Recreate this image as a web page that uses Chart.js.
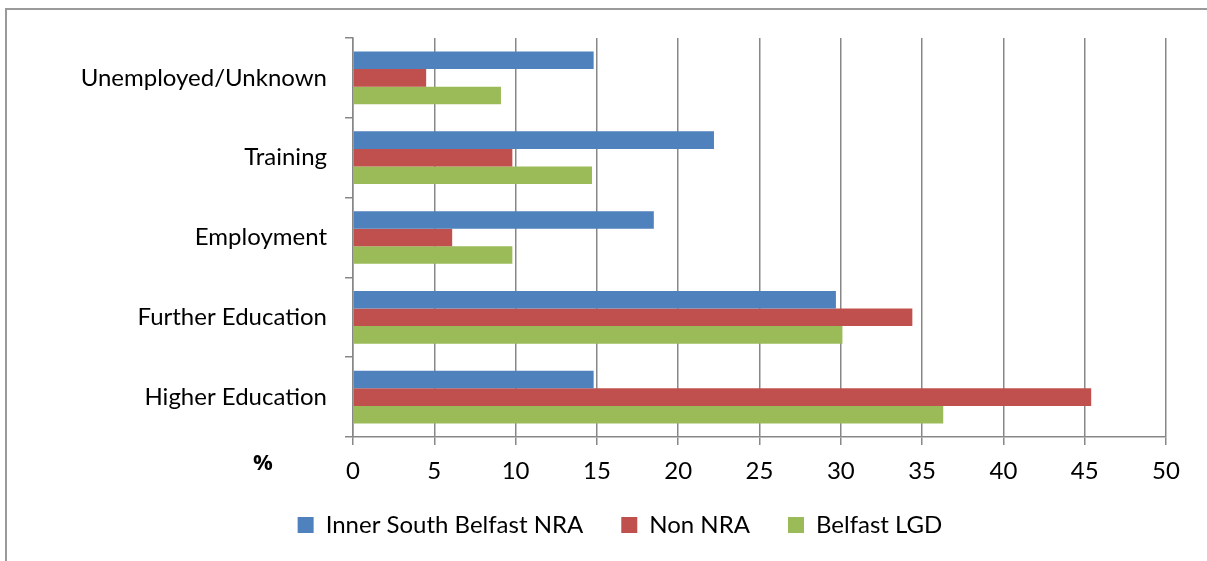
<!DOCTYPE html>
<html>
<head>
<meta charset="utf-8">
<script src="https://cdn.jsdelivr.net/npm/chart.js@4.4.0/dist/chart.umd.min.js"></script>
<style>
  html, body { margin: 0; padding: 0; background: #fff; overflow: hidden; }
  #frame { position: absolute; left: 5px; top: 8px; width: 1400px; height: 800px; border: 2px solid #9a9a9a; }
  #wrap { position: absolute; left: 0; top: 0; width: 1207px; height: 561px; }
</style>
</head>
<body>
<div id="frame"></div>
<div id="wrap"><canvas id="chart"></canvas></div>
<script>
// categories, top to bottom
const categories = ['Unemployed/Unknown', 'Training', 'Employment', 'Further Education', 'Higher Education'];
const seriesNames = ['Inner South Belfast NRA', 'Non NRA', 'Belfast LGD'];
const innerSouthNRA = [14.8, 22.2, 18.5, 29.7, 14.8];
const nonNRA = [4.5, 9.8, 6.1, 34.4, 45.4];
const belfastLGD = [9.1, 14.7, 9.8, 30.1, 36.3];
const xTicks = [0, 5, 10, 15, 20, 25, 30, 35, 40, 45, 50];

const colors = ['#4f81bd', '#c0504d', '#9bbb59'];
const gridColor = '#878787';
const fontFamily = 'Lato, "Open Sans", sans-serif';

// draws the "%" axis note left of the x tick labels
const percentLabel = {
    id: 'percentLabel',
    afterDraw(chart) {
        const ctx = chart.ctx;
        ctx.save();
        ctx.font = 'bold 22px "Open Sans", sans-serif';
        ctx.fillStyle = '#000';
        ctx.textAlign = 'center';
        ctx.textBaseline = 'middle';
        ctx.fillText('%', 263, 464);
        ctx.restore();
    }
};

// nudge the legend up a bit, closer to the axis labels
const legendShift = {
    id: 'legendShift',
    afterLayout(chart) {
        const lg = chart.legend;
        if (lg) {
            lg.top -= 12;
            lg.bottom -= 12;
        }
    }
};

const ctx = document.getElementById('chart');
new Chart(ctx, {
    type: 'bar',
    data: {
        labels: categories,
        datasets: [innerSouthNRA, nonNRA, belfastLGD].map((vals, i) => ({
            label: seriesNames[i],
            data: vals,
            backgroundColor: colors[i],
            borderWidth: 0,
            categoryPercentage: 0.66,
            barPercentage: 1.0
        }))
    },
    options: {
        indexAxis: 'y',
        responsive: true,
        maintainAspectRatio: false,
        animation: false,
        layout: { padding: { top: 38, right: 41, left: 74, bottom: 2 } },
        plugins: {
            tooltip: { enabled: false },
            legend: {
                position: 'bottom',
                labels: {
                    font: { family: fontFamily, size: 24 },
                    color: '#000',
                    boxWidth: 16,
                    boxHeight: 16,
                    padding: 38
                }
            }
        },
        scales: {
            x: {
                min: 0,
                max: 50,
                afterBuildTicks: (scale) => { scale.ticks = xTicks.map(v => ({ value: v })); },
                afterFit: (scale) => { scale.height = 50; },
                grid: { color: gridColor, lineWidth: 1.5, tickLength: 8, drawTicks: true },
                border: { color: gridColor, width: 1.5 },
                ticks: {
                    font: { family: fontFamily, size: 24 },
                    color: '#000',
                    padding: 12,
                    maxRotation: 0
                }
            },
            y: {
                afterFit: (scale) => { scale.width = 279; },
                grid: { offset: true, drawOnChartArea: false, color: gridColor, lineWidth: 1.5, tickLength: 8 },
                border: { color: gridColor, width: 1.5 },
                ticks: {
                    font: { family: fontFamily, size: 24 },
                    color: '#000',
                    padding: 18
                }
            }
        }
    },
    plugins: [percentLabel, legendShift]
});
</script>
</body>
</html>
